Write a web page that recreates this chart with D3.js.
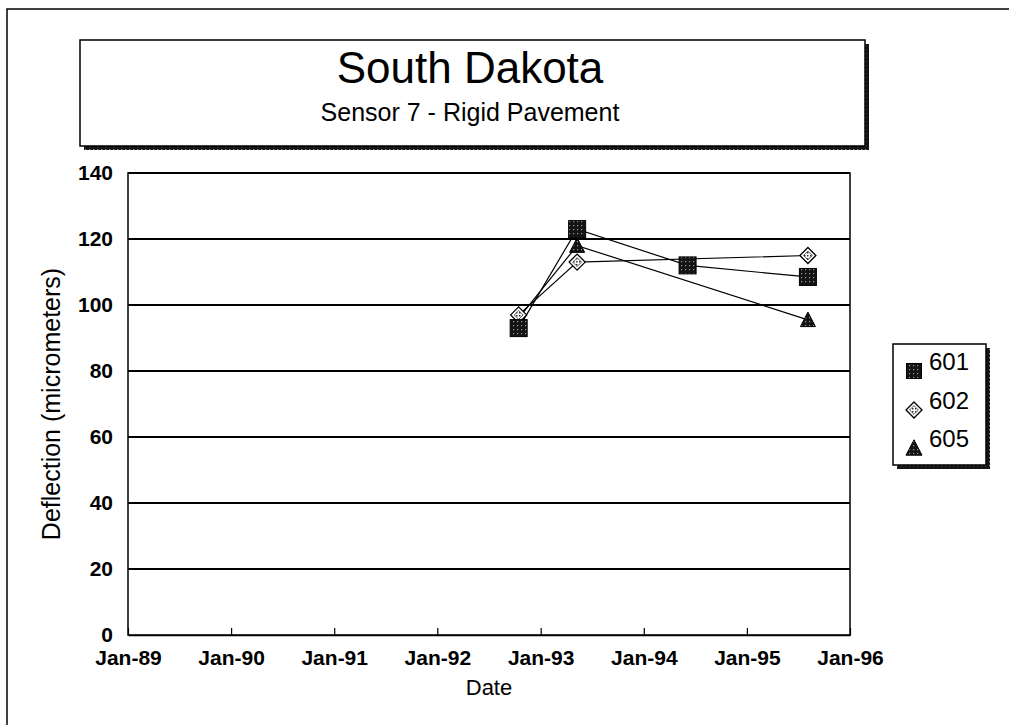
<!DOCTYPE html>
<html>
<head>
<meta charset="utf-8">
<script src="https://cdn.jsdelivr.net/npm/d3@7"></script>
<style>
  html, body { margin: 0; padding: 0; background: #fff; }
  svg { display: block; font-family: "Liberation Sans", Arial, sans-serif; }
</style>
</head>
<body>
<svg id="chart" width="1009" height="725"></svg>
<script>
// ---- data ----
const chartTitle = "South Dakota";
const chartSubtitle = "Sensor 7 - Rigid Pavement";
const yAxisTitle = "Deflection (micrometers)";
const xAxisTitle = "Date";
const seriesNames = ["601", "602", "605"];
const dates601 = ["1992-10-15", "1993-05-10", "1994-06-05", "1995-08-05"];
const values601 = [93, 123, 112, 108.5];
const dates602 = ["1992-10-15", "1993-05-10", "1995-08-05"];
const values602 = [97, 113, 115];
const dates605 = ["1992-10-15", "1993-05-10", "1995-08-05"];
const values605 = [96, 118, 95.5];
const yTicks = [0, 20, 40, 60, 80, 100, 120, 140];
const xTickDates = ["1989-01-01", "1990-01-01", "1991-01-01", "1992-01-01", "1993-01-01", "1994-01-01", "1995-01-01", "1996-01-01"];

// ---- setup ----
const parse = d3.timeParse("%Y-%m-%d");
const fmt = d3.timeFormat("%b-%y");
const svg = d3.select("#chart");
const plot = { left: 128, right: 850, top: 173, bottom: 635 };

const x = d3.scaleTime()
  .domain([parse(xTickDates[0]), parse(xTickDates[xTickDates.length - 1])])
  .range([plot.left, plot.right]);
const y = d3.scaleLinear().domain([0, 140]).range([plot.bottom, plot.top]);

// patterns
const defs = svg.append("defs");
const stip = defs.append("pattern").attr("id", "stip").attr("width", 4).attr("height", 4)
  .attr("patternUnits", "userSpaceOnUse");
stip.append("rect").attr("width", 4).attr("height", 4).attr("fill", "#141414");
stip.append("rect").attr("x", 1).attr("y", 1).attr("width", 1.2).attr("height", 1.2).attr("fill", "#9a9a9a");
const chk = defs.append("pattern").attr("id", "chk").attr("width", 3).attr("height", 3)
  .attr("patternUnits", "userSpaceOnUse");
chk.append("rect").attr("width", 3).attr("height", 3).attr("fill", "#fff");
chk.append("rect").attr("width", 1.5).attr("height", 1.5).attr("fill", "#333");

// outer frame (cropped)
svg.append("path").attr("d", "M7,725 V9 H1009").attr("fill", "none").attr("stroke", "#000").attr("stroke-width", 1.5);

// title box with shadow
function shadowBox(x0, y0, x1, y1) {
  svg.append("rect").attr("x", x0 + 4).attr("y", y0 + 4).attr("width", x1 - x0).attr("height", y1 - y0)
    .attr("fill", "url(#stip)");
  svg.append("rect").attr("x", x0).attr("y", y0).attr("width", x1 - x0).attr("height", y1 - y0)
    .attr("fill", "#fff").attr("stroke", "#000").attr("stroke-width", 1.5);
}
shadowBox(80, 40, 865, 146);
svg.append("text").attr("x", 470).attr("y", 83).attr("text-anchor", "middle")
  .attr("font-size", 44).text(chartTitle);
svg.append("text").attr("x", 470).attr("y", 121).attr("text-anchor", "middle")
  .attr("font-size", 25).text(chartSubtitle);

// gridlines
svg.append("g").selectAll("line").data(yTicks.filter(v => v > 0)).join("line")
  .attr("x1", plot.left).attr("x2", plot.right)
  .attr("y1", d => y(d)).attr("y2", d => y(d))
  .attr("stroke", "#000").attr("stroke-width", 2);

// plot frame
svg.append("rect").attr("x", plot.left).attr("y", plot.top)
  .attr("width", plot.right - plot.left).attr("height", plot.bottom - plot.top)
  .attr("fill", "none").attr("stroke", "#000").attr("stroke-width", 1.5);

// y axis labels
const yAxis = d3.axisLeft(y).tickValues(yTicks).tickSize(0).tickPadding(15);
const gy = svg.append("g").attr("transform", `translate(${plot.left},0)`).call(yAxis);
gy.select(".domain").remove();
gy.selectAll("text").attr("font-size", 21).attr("font-weight", "bold")
  .attr("font-family", "Liberation Sans, Arial, sans-serif").attr("fill", "#000");

// x axis
const xAxis = d3.axisBottom(x).tickValues(xTickDates.map(parse)).tickFormat(fmt)
  .tickSizeInner(-7).tickSizeOuter(0).tickPadding(15);
const gx = svg.append("g").attr("transform", `translate(0,${plot.bottom})`).call(xAxis);
gx.select(".domain").attr("stroke-width", 1.5);
gx.selectAll(".tick line").attr("stroke-width", 1.2);
gx.selectAll("text").attr("font-size", 21).attr("font-weight", "bold")
  .attr("font-family", "Liberation Sans, Arial, sans-serif").attr("fill", "#000");

// axis titles
svg.append("text").attr("transform", `translate(60,${(plot.top + plot.bottom) / 2}) rotate(-90)`)
  .attr("text-anchor", "middle").attr("font-size", 25).text(yAxisTitle);
svg.append("text").attr("x", 489).attr("y", 695).attr("text-anchor", "middle")
  .attr("font-size", 22).text(xAxisTitle);

// markers
function drawMarker(g, type, cx, cy, s) {
  if (type === "square") {
    g.append("rect").attr("x", cx - s / 2).attr("y", cy - s / 2).attr("width", s).attr("height", s)
      .attr("fill", "url(#stip)").attr("stroke", "#000").attr("stroke-width", 1);
  } else if (type === "diamond") {
    const r = s / 2;
    g.append("path").attr("d", `M${cx},${cy - r}L${cx + r},${cy}L${cx},${cy + r}L${cx - r},${cy}Z`)
      .attr("fill", "#fff").attr("stroke", "#000").attr("stroke-width", 1.3);
    const r2 = r * 0.55;
    g.append("path").attr("d", `M${cx},${cy - r2}L${cx + r2},${cy}L${cx},${cy + r2}L${cx - r2},${cy}Z`)
      .attr("fill", "url(#chk)").attr("stroke", "#333").attr("stroke-width", 0.8);
  } else {
    const h = s * 0.9;
    g.append("path").attr("d", `M${cx},${cy - h / 2 - 1}L${cx + s / 2},${cy + h / 2}L${cx - s / 2},${cy + h / 2}Z`)
      .attr("fill", "url(#stip)").attr("stroke", "#000").attr("stroke-width", 1);
  }
}

const series = [
  { name: seriesNames[0], dates: dates601, values: values601, type: "square", size: 17 },
  { name: seriesNames[1], dates: dates602, values: values602, type: "diamond", size: 16 },
  { name: seriesNames[2], dates: dates605, values: values605, type: "triangle", size: 15 }
];

const line = d3.line().x(d => x(d.date)).y(d => y(d.value));
series.forEach(s => {
  s.points = s.dates.map((d, i) => ({ date: parse(d), value: s.values[i] }));
});
series.forEach(s => {
  svg.append("path").datum(s.points).attr("d", line)
    .attr("fill", "none").attr("stroke", "#000").attr("stroke-width", 1.2);
});
[series[2], series[1], series[0]].forEach(s => {
  const g = svg.append("g");
  s.points.forEach(p => drawMarker(g, s.type, x(p.date), y(p.value), s.size));
});

// legend
shadowBox(893, 344, 986, 465);
const legendY = [370, 409, 447];
series.forEach((s, i) => {
  const g = svg.append("g");
  drawMarker(g, s.type, 914, legendY[i] + 1, s.type === "square" ? 15 : 16);
  svg.append("text").attr("x", 929).attr("y", legendY[i]).attr("font-size", 24).text(s.name);
});
</script>
</body>
</html>
